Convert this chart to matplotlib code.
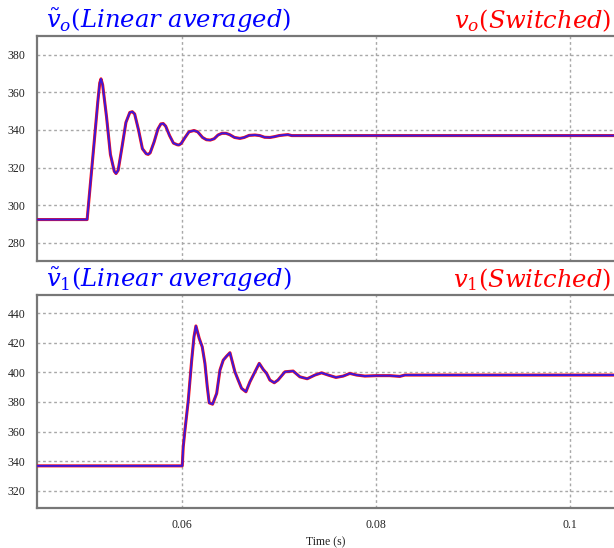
import matplotlib
matplotlib.use("Agg")
import matplotlib.pyplot as plt

# v_o : output voltage response (linear averaged model ~ switched model)
t_vo = [0.0450, 0.0502, 0.0509, 0.0513, 0.0515, 0.05163, 0.0518, 0.0522, 0.0526, 0.0530,
        0.05318, 0.0534, 0.0538, 0.0542, 0.0546, 0.05486, 0.0551, 0.0555, 0.0559, 0.0563,
        0.0565, 0.0567, 0.0571, 0.0575, 0.0578, 0.05805, 0.0583, 0.0587, 0.0591, 0.0595,
        0.05967, 0.0599, 0.0603, 0.0607, 0.06122, 0.0616, 0.0621, 0.0625, 0.0629, 0.0633,
        0.0637, 0.0641, 0.06452, 0.0649, 0.0654, 0.06596, 0.0664, 0.0669, 0.06751, 0.0680,
        0.0685, 0.06906, 0.0695, 0.0700, 0.0705, 0.07091, 0.0713, 0.1050]
vo = [292.3, 292.3, 332, 355, 365, 367.2, 364, 347, 327, 318,
      316.8, 318.5, 331, 344, 349.3, 349.7, 348.5, 340, 330, 327.3,
      327, 327.8, 333.5, 340.5, 343.2, 343.4, 342, 337, 333, 332.1,
      332, 332.8, 336, 339, 339.7, 339, 336, 334.8, 334.6, 335.3,
      337.3, 338.2, 338.2, 337.5, 336, 335.5, 336, 337.1, 337.3, 337,
      336.1, 336, 336.4, 337, 337.3, 337.5, 337, 337]

# v_1 : capacitor voltage response
t_v1 = [0.0450, 0.06001, 0.06011, 0.06029, 0.06063, 0.06098, 0.06122, 0.06142, 0.06176, 0.06207,
        0.06235, 0.06259, 0.06279, 0.06314, 0.06356, 0.0639, 0.06424, 0.06459, 0.06493, 0.06544,
        0.06578, 0.06613, 0.06658, 0.06699, 0.06751, 0.06795, 0.06836, 0.06871, 0.06905, 0.0695,
        0.06988, 0.0706, 0.07145, 0.07214, 0.0729, 0.07369, 0.07438, 0.07506, 0.07586, 0.07661,
        0.0773, 0.07799, 0.07885, 0.08005, 0.08142, 0.08245, 0.08297, 0.1050]
v1 = [336.8, 336.8, 349.6, 361, 381, 408, 424, 431.4, 423, 417.3,
      406, 390.3, 379.4, 378.5, 385.8, 401.6, 408.3, 411, 413.3, 400.4,
      394.8, 389.2, 386.9, 393.6, 400.4, 406.1, 402, 399.3, 394.8, 393,
      394.8, 400.4, 400.9, 397, 395.7, 398.2, 399.7, 398.2, 396.6, 397.5,
      399.3, 398.2, 397.5, 397.8, 397.8, 397.3, 398.2, 398.2]

xticks = [0.06, 0.08, 0.1]
xticklabels = ["0.06", "0.08", "0.1"]
yticks_vo = [280, 300, 320, 340, 360, 380]
yticks_v1 = [320, 340, 360, 380, 400, 420, 440]

plt.rcParams["mathtext.fontset"] = "dejavuserif"

fig = plt.figure(figsize=(6.14, 5.48), dpi=100)
ax1 = fig.add_axes([0.0598, 0.5246, 0.9402, 0.4097])
ax2 = fig.add_axes([0.0598, 0.0735, 0.9402, 0.3873])


def style_axes(ax, t, v, yticks, ylim):
    # switched waveform underneath, averaged model drawn on top
    ax.plot(t, v, color="#ff1010", lw=2.2, zorder=3)
    ax.plot(t, v, color="#1a1aff", lw=1.4, alpha=0.85, zorder=4)
    ax.set_xlim(0.045, 0.10454)
    ax.set_ylim(*ylim)
    ax.set_xticks(xticks)
    ax.set_yticks(yticks)
    ax.grid(True, color="#a8a8a8", linestyle=(0, (2, 2)), linewidth=1)
    ax.tick_params(length=0, pad=8, labelsize=8.5, colors="#222222")
    for lbl in ax.get_yticklabels() + ax.get_xticklabels():
        lbl.set_family("Liberation Serif")
    for side in ["left", "top", "bottom"]:
        ax.spines[side].set_color("#777777")
        ax.spines[side].set_linewidth(1.6)
    ax.spines["right"].set_visible(False)


style_axes(ax1, t_vo, vo, yticks_vo, (270.5, 390))
style_axes(ax2, t_v1, v1, yticks_v1, (308.5, 452))
ax1.set_xticklabels([])
ax2.set_xticklabels(xticklabels, family="Liberation Serif")
ax2.set_xlabel("Time (s)", family="Liberation Serif", fontsize=8.5, color="#222222", labelpad=4)

fig.text(46 / 614, 0.9626, r"$\tilde{v}_o(Linear\ averaged)$", color="blue", fontsize=17.5, va="center", ha="left")
fig.text(611 / 614, 0.9626, r"$v_o(Switched)$", color="red", fontsize=17.5, va="center", ha="right")
fig.text(46 / 614, 0.49, r"$\tilde{v}_1(Linear\ averaged)$", color="blue", fontsize=17.5, va="center", ha="left")
fig.text(611 / 614, 0.49, r"$v_1(Switched)$", color="red", fontsize=17.5, va="center", ha="right")

fig.savefig("out.png", dpi=100)
